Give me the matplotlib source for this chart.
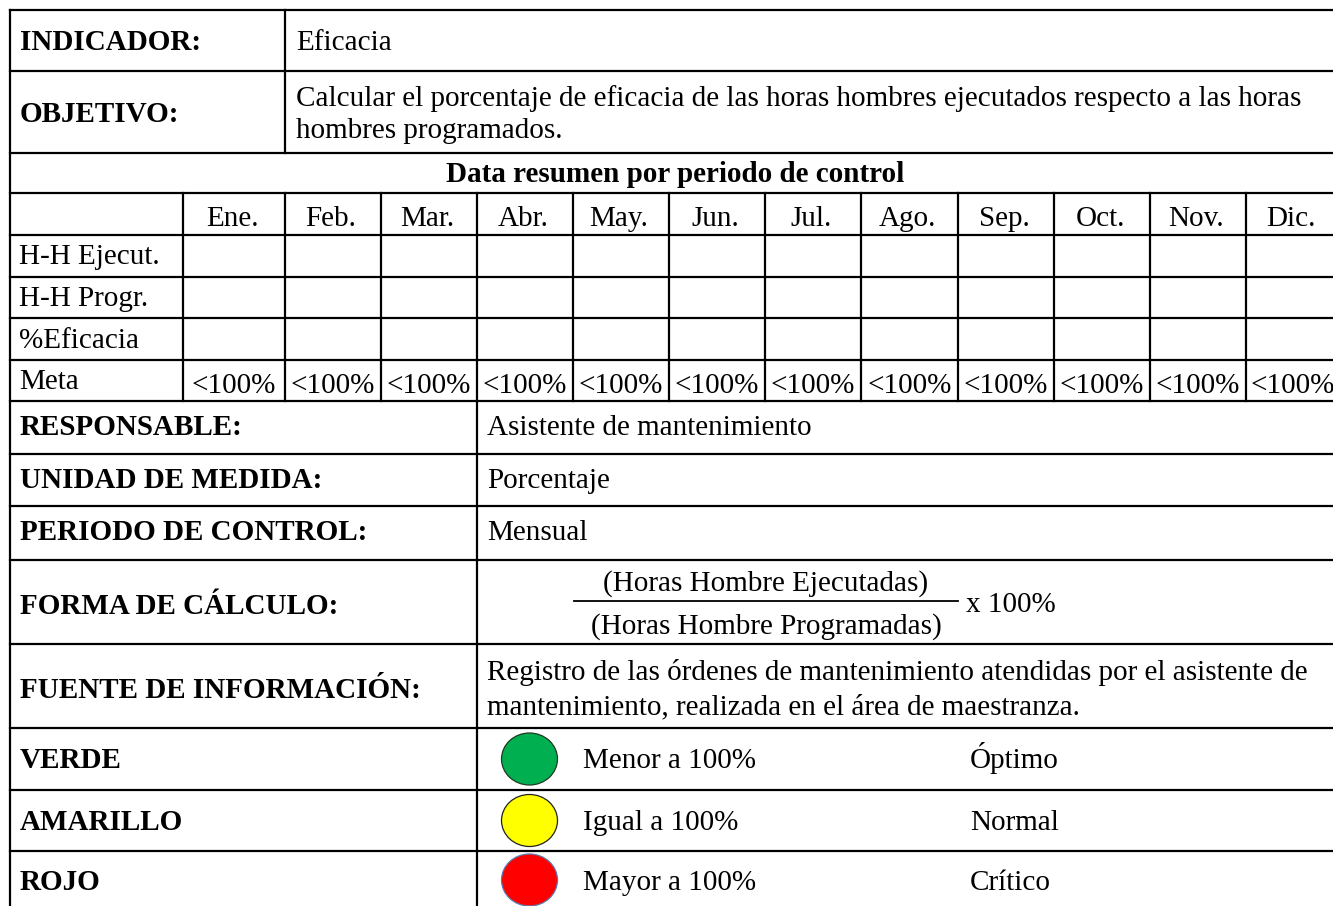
import matplotlib
matplotlib.use('Agg')
import matplotlib.pyplot as plt
from matplotlib.patches import Ellipse

# ---------------- data ----------------
indicador_label = "INDICADOR:"
indicador_value = "Eficacia"
objetivo_label = "OBJETIVO:"
objetivo_lines = ["Calcular el porcentaje de eficacia de las horas hombres ejecutados respecto a las horas",
                  "hombres programados."]
resumen_title = "Data resumen por periodo de control"
months = ["Ene.", "Feb.", "Mar.", "Abr.", "May.", "Jun.", "Jul.", "Ago.", "Sep.", "Oct.", "Nov.", "Dic."]
row_labels = ["H-H Ejecut.", "H-H Progr.", "%Eficacia", "Meta"]
meta_values = ["<100%"] * 12

info_labels = ["RESPONSABLE:", "UNIDAD DE MEDIDA:", "PERIODO DE CONTROL:"]
info_values = ["Asistente de mantenimiento", "Porcentaje", "Mensual"]
forma_label = "FORMA DE CÁLCULO:"
forma_num = "(Horas Hombre Ejecutadas)"
forma_den = "(Horas Hombre Programadas)"
forma_mult = "x 100%"
fuente_label = "FUENTE DE INFORMACIÓN:"
fuente_lines = ["Registro de las órdenes de mantenimiento atendidas por el asistente de",
                "mantenimiento, realizada en el área de maestranza."]
sem_labels = ["VERDE", "AMARILLO", "ROJO"]
sem_colors = ["#00B050", "#FFFF00", "#FF0000"]
sem_edges = ["#1F3A22", "#222222", "#5A7BAE"]
sem_conditions = ["Menor a 100%", "Igual a 100%", "Mayor a 100%"]
sem_status = ["Óptimo", "Normal", "Crítico"]

# ---------------- layout ----------------
W, H = 1333, 906
fig = plt.figure(figsize=(W / 100, H / 100), dpi=100)
ax = fig.add_axes([0, 0, 1, 1])
ax.set_xlim(0, W)
ax.set_ylim(H, 0)
ax.axis('off')

FONT = ['Liberation Serif', 'DejaVu Serif']
FS = 21
LW = 1.6
L, R = 10, 1340
CAP = 9.5  # half cap height in px

rows = [10, 71, 153, 193, 235, 277, 318, 360, 401, 454, 506, 560, 644, 728, 790, 851, 912]
month_cols = [183, 285, 381, 477, 573, 669, 765, 861, 958, 1054, 1150, 1246, R]


def hline(y, x0=L, x1=R):
    ax.plot([x0, x1], [y, y], color='black', lw=LW, solid_capstyle='projecting')


def vline(x, y0, y1):
    ax.plot([x, x], [y0, y1], color='black', lw=LW, solid_capstyle='projecting')


def txt(x, yc, s, bold=False, ha='left', dy=0):
    ax.text(x, yc + CAP + dy, s, fontsize=FS, family=FONT,
            weight='bold' if bold else 'normal', ha=ha, va='baseline', color='black')


for y in rows[:-1]:
    hline(y)
vline(L, rows[0], rows[-1])
vline(R, rows[0], rows[-1])
vline(285, rows[0], rows[2])
for x in month_cols[:-1]:
    vline(x, rows[3], rows[8])
vline(477, rows[8], rows[-1])

# header
txt(20, 40, indicador_label, bold=True)
txt(296, 40, indicador_value)
txt(20, 113, objetivo_label, bold=True)
txt(296, 97, objetivo_lines[0])
txt(296, 129, objetivo_lines[1])
txt((L + R) / 2, 173, resumen_title, bold=True, ha='center')

# months
for i, m in enumerate(months):
    cx = (month_cols[i] + month_cols[i + 1]) / 2 - 2
    txt(cx, 216, m, ha='center')

# row labels
row_centers = [(rows[4 + i] + rows[5 + i]) / 2 for i in range(4)]
for lab, yc in zip(row_labels, row_centers):
    txt(19, yc - 1, lab)
for i, v in enumerate(meta_values):
    cx = (month_cols[i] + month_cols[i + 1]) / 2
    txt(cx, row_centers[3] + 3, v, ha='center')

# info rows
for i, (lab, val) in enumerate(zip(info_labels, info_values)):
    yc = (rows[8 + i] + rows[9 + i]) / 2 - 2
    txt(20, yc, lab, bold=True)
    txt(487, yc, val)

# forma de calculo
yc = (rows[11] + rows[12]) / 2
txt(20, yc + 2, forma_label, bold=True)
fx0, fx1 = 574, 958
fcx = (fx0 + fx1) / 2
ax.plot([fx0, fx1], [601, 601], color='black', lw=1.3)
txt(fcx, 581, forma_num, ha='center')
txt(fcx, 624, forma_den, ha='center')
txt(966, 602, forma_mult)

# fuente
yc = (rows[12] + rows[13]) / 2
txt(20, yc + 2, fuente_label, bold=True)
txt(487, 671, fuente_lines[0])
txt(487, 705, fuente_lines[1])

# semaforo
for i in range(3):
    yc = (rows[13 + i] + rows[14 + i]) / 2
    if i == 2:
        yc = 880
    txt(20, yc, sem_labels[i], bold=True)
    ax.add_patch(Ellipse((529.5, yc), 56, 52, facecolor=sem_colors[i],
                         edgecolor=sem_edges[i], lw=0.9, zorder=3))
    txt(583, yc, sem_conditions[i])
    txt(970, yc, sem_status[i])

fig.savefig('out.png', dpi=100)
